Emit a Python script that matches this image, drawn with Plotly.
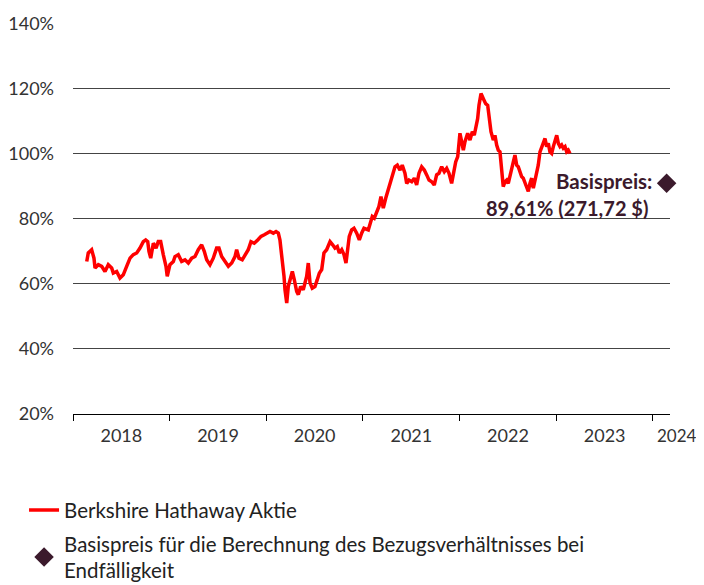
import plotly.graph_objects as go

# ---- data ----
time_years = [
    2018.142, 2018.158, 2018.193, 2018.217, 2018.228, 2018.262, 2018.297, 2018.331, 2018.365, 2018.400,
    2018.417, 2018.452, 2018.486, 2018.520, 2018.555, 2018.590, 2018.624, 2018.659, 2018.693, 2018.727,
    2018.752, 2018.773, 2018.786, 2018.804, 2018.831, 2018.859, 2018.882, 2018.907, 2018.934, 2018.962,
    2018.975, 2019.003, 2019.038, 2019.055, 2019.089, 2019.124, 2019.159, 2019.193, 2019.228, 2019.262,
    2019.296, 2019.331, 2019.358, 2019.383, 2019.417, 2019.451, 2019.486, 2019.510, 2019.538, 2019.572,
    2019.607, 2019.642, 2019.676, 2019.693, 2019.717, 2019.751, 2019.786, 2019.813, 2019.841, 2019.875,
    2019.911, 2019.945, 2019.979, 2020.038, 2020.072, 2020.100, 2020.124, 2020.141, 2020.152, 2020.165,
    2020.183, 2020.193, 2020.211, 2020.227, 2020.245, 2020.269, 2020.289, 2020.314, 2020.331, 2020.355,
    2020.382, 2020.417, 2020.434, 2020.452, 2020.475, 2020.503, 2020.527, 2020.548, 2020.573, 2020.596,
    2020.624, 2020.659, 2020.686, 2020.710, 2020.734, 2020.755, 2020.780, 2020.803, 2020.824, 2020.837,
    2020.858, 2020.883, 2020.907, 2020.935, 2020.962, 2020.986, 2021.010, 2021.055, 2021.072, 2021.096,
    2021.117, 2021.142, 2021.165, 2021.186, 2021.210, 2021.235, 2021.262, 2021.290, 2021.313, 2021.331,
    2021.355, 2021.383, 2021.406, 2021.434, 2021.452, 2021.476, 2021.504, 2021.531, 2021.555, 2021.579,
    2021.607, 2021.634, 2021.659, 2021.683, 2021.711, 2021.737, 2021.762, 2021.786, 2021.814, 2021.841,
    2021.866, 2021.890, 2021.917, 2021.938, 2021.959, 2021.980, 2022.003, 2022.021, 2022.038, 2022.055,
    2022.083, 2022.107, 2022.131, 2022.151, 2022.166, 2022.186, 2022.200, 2022.221, 2022.244, 2022.269,
    2022.290, 2022.306, 2022.324, 2022.348, 2022.365, 2022.383, 2022.400, 2022.417, 2022.435, 2022.451,
    2022.469, 2022.486, 2022.503, 2022.520, 2022.538, 2022.555, 2022.572, 2022.590, 2022.606, 2022.624,
    2022.641, 2022.658, 2022.676, 2022.693, 2022.710, 2022.727, 2022.745, 2022.762, 2022.779, 2022.797,
    2022.813, 2022.831, 2022.848, 2022.865, 2022.883, 2022.900, 2022.917, 2022.934, 2022.952, 2022.969,
    2022.986, 2023.004, 2023.021, 2023.038, 2023.055, 2023.072, 2023.090, 2023.107, 2023.124, 2023.141,
]
price_pct = [
    66.9, 69.5, 70.5, 67.9, 64.9, 65.9, 65.4, 63.8, 65.9, 64.9,
    63.3, 63.8, 61.8, 62.8, 65.4, 67.9, 69.0, 69.5, 71.0, 73.0,
    73.5, 73.0, 70.0, 67.9, 72.5, 71.0, 73.0, 73.0, 69.0, 65.4,
    62.3, 65.9, 66.9, 68.4, 69.0, 66.9, 67.4, 66.4, 67.9, 68.4,
    70.5, 72.0, 70.0, 67.4, 65.9, 67.9, 71.0, 71.0, 68.4, 66.9,
    65.4, 66.4, 68.4, 70.5, 67.9, 67.4, 69.0, 70.5, 73.0, 72.5,
    73.5, 74.6, 75.1, 76.1, 75.6, 76.1, 75.6, 73.5, 70.5, 67.4,
    62.3, 58.2, 54.1, 59.2, 61.3, 63.8, 61.3, 57.7, 56.7, 59.2,
    58.2, 62.3, 66.4, 60.3, 58.7, 59.2, 61.3, 63.3, 64.4, 69.5,
    70.5, 73.0, 72.0, 71.0, 71.5, 69.5, 70.5, 69.0, 66.4, 69.5,
    74.6, 76.6, 77.1, 75.6, 73.5, 75.6, 77.1, 76.6, 78.1, 80.7,
    80.2, 82.2, 83.8, 86.8, 83.3, 86.3, 88.9, 91.4, 93.5, 96.0,
    96.5, 95.0, 96.5, 94.0, 90.9, 91.9, 91.4, 92.5, 90.4, 94.0,
    96.0, 95.0, 93.5, 91.9, 91.4, 90.4, 93.5, 94.0, 96.0, 94.5,
    95.5, 94.0, 90.9, 95.0, 97.5, 99.1, 106.3, 103.7, 101.1, 103.7,
    106.3, 104.2, 106.8, 105.7, 107.8, 110.8, 114.9, 118.5, 117.0, 115.4,
    114.9, 110.8, 106.8, 104.2, 105.7, 102.7, 101.1, 100.6, 94.5, 89.9,
    91.4, 91.9, 90.9, 93.5, 95.5, 97.5, 99.6, 96.5, 96.0, 94.5,
    93.0, 92.5, 90.9, 89.4, 88.4, 90.9, 92.5, 89.4, 91.4, 94.0,
    96.5, 100.6, 102.2, 103.7, 104.7, 102.2, 103.2, 100.6, 100.1, 102.2,
    104.2, 105.7, 103.2, 102.2, 102.7, 101.7, 102.2, 100.6, 101.1, 100.1,
]
strike_time = [2024.141]
strike_pct = [90.9]
strike_label_lines = ["Basispreis:", "89,61% (271,72 $)"]

year_bounds = [2018, 2019, 2020, 2021, 2022, 2023, 2024]
year_labels = ["2018", "2019", "2020", "2021", "2022", "2023"]
year_label_pos = [2018.5, 2019.5, 2020.5, 2021.5, 2022.5, 2023.5]
last_year_label = "2024"
y_ticks = [20, 40, 60, 80, 100, 120, 140]
y_ticktext = ["20%", "40%", "60%", "80%", "100%", "120%", "140%"]

series_name = "Berkshire Hathaway Aktie"
strike_name = "Basispreis für die Berechnung des Bezugsverhältnisses bei<br>Endfälligkeit"

FONT = "Lato"
RED = "#ff0000"
DARK = "#3b1a2c"
X_RANGE = [2018, 2024.176]
Y_RANGE = [20, 140.2]

fig = go.Figure()
fig.add_trace(go.Scatter(
    x=time_years, y=price_pct, mode="lines", name=series_name,
    line=dict(color=RED, width=3.5), hoverinfo="skip", legendgroup="a",
))
fig.add_trace(go.Scatter(
    x=strike_time, y=strike_pct, mode="markers", name=strike_name,
    marker=dict(symbol="diamond", size=15, color=DARK), cliponaxis=False,
    legendgroup="b",
))

fig.add_annotation(x=strike_time[0], y=strike_pct[0], xref="x", yref="y",
                   text="<b>" + strike_label_lines[0] + "</b>", showarrow=False,
                   xanchor="right", yanchor="middle", xshift=-13, yshift=2,
                   font=dict(family=FONT, size=20.5, color=DARK))
fig.add_annotation(x=strike_time[0], y=strike_pct[0], xref="x", yref="y",
                   text="<b>" + strike_label_lines[1] + "</b>", showarrow=False,
                   xanchor="right", yanchor="middle", xshift=-17, yshift=-25,
                   font=dict(family=FONT, size=20, color=DARK))
# last year label sits at the far right edge (squeezed, as in the reference)
fig.add_annotation(x=1.0, y=0, xref="paper", yref="paper",
                   text=last_year_label, showarrow=False,
                   xanchor="left", yanchor="top", yshift=-9, xshift=-15,
                   font=dict(family=FONT, size=17, color="#333333"))

fig.update_layout(
    width=696, height=577,
    margin=dict(l=65, r=34, t=15, b=171, autoexpand=False),
    paper_bgcolor="white", plot_bgcolor="white",
    font=dict(family=FONT, size=18, color="#333333"),
    showlegend=True,
    legend=dict(
        orientation="v", x=-0.082, xanchor="left", y=-0.195, yanchor="top",
        font=dict(family=FONT, size=20.5, color="#222222"),
        bgcolor="rgba(0,0,0,0)", tracegroupgap=4, itemwidth=30,
    ),
    xaxis=dict(
        range=X_RANGE, showgrid=False, zeroline=False,
        showline=True, linecolor="#000000", linewidth=1,
        tickvals=year_label_pos, ticktext=year_labels, ticks="",
        tickfont=dict(family=FONT, size=18, color="#333333"),
        ticklabelstandoff=5,
        minor=dict(tickvals=year_bounds, ticks="outside", ticklen=6,
                   tickcolor="#000000", tickwidth=1, showgrid=False),
    ),
    yaxis=dict(
        range=Y_RANGE, tickvals=y_ticks, ticktext=y_ticktext,
        showgrid=True, gridcolor="#444444", gridwidth=1, zeroline=False,
        showline=False, ticks="",
        tickfont=dict(family=FONT, size=18, color="#333333"),
        ticklabelstandoff=18,
    ),
)

fig.write_html("out.html")
